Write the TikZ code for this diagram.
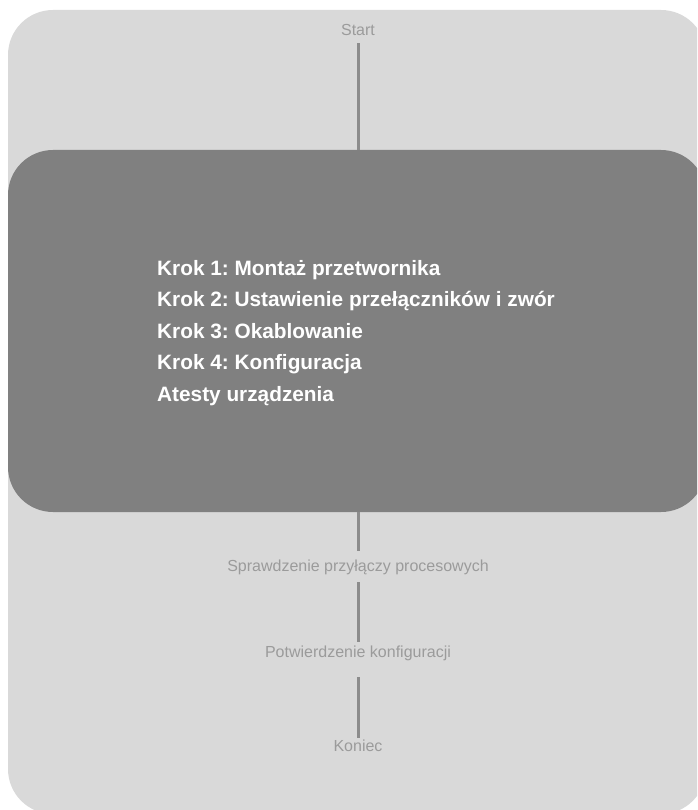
\documentclass[tikz,border=0pt]{standalone}
\usepackage{fontspec}
\setmainfont{Liberation Sans}
\usepackage{tikz}
\frenchspacing
\definecolor{panel}{HTML}{D9D9D9}
\definecolor{stepsfill}{HTML}{808080}
\definecolor{wire}{HTML}{8C8C8C}
\definecolor{label}{HTML}{9B9B9B}
\tikzstyle{stage}=[anchor=base, text=label, font=\fontsize{16}{19}\selectfont,
	text height=12pt, text depth=4pt, inner xsep=2pt, inner ysep=3pt]
\tikzstyle{wireline}=[draw=wire, line width=3pt]

\begin{document}
\begin{tikzpicture}[x=1pt, y=-1pt]
	\def\radius{45pt}

	% Background, frame
	\useasboundingbox (0,0) rectangle (697,810);
	\clip (0,0) rectangle (697,810);
	\fill[panel, rounded corners=\radius] (8,10) rectangle (706,814);

	% Steps box
	\node[fill=stepsfill, rounded corners=\radius, minimum width=698pt,
		minimum height=362pt, inner sep=0pt] (steps) at (357,331) {};
	\node[anchor=west, align=left, text=white, inner sep=0pt,
		font=\bfseries\fontsize{20.8}{31.5}\selectfont] (list) at (157,333) {%
		Krok 1: Montaż przetwornika\\
		Krok 2: Ustawienie przełączników i zwór\\
		Krok 3: Okablowanie\\
		Krok 4: Konfiguracja\\
		Atesty urządzenia};

	% Stages
	\node[stage] (start) at (358,36) {Start};
	\node[stage] (check) at (358,571) {Sprawdzenie przyłączy procesowych};
	\node[stage] (confirm) at (358,657) {Potwierdzenie konfiguracji};
	\node[stage] (finish) at (358,751) {Koniec};

	% Lines
	\draw[wireline] (start.south) -- (steps.north -| start.south);
	\draw[wireline, shorten >=5pt] (steps.south -| check.north) -- (check.north);
	\draw[wireline, shorten <=4pt] (check.south) -- (confirm.north);
	\draw[wireline, shorten <=13pt, shorten >=-2pt] (confirm.south) -- (finish.north);

\end{tikzpicture}
\end{document}
